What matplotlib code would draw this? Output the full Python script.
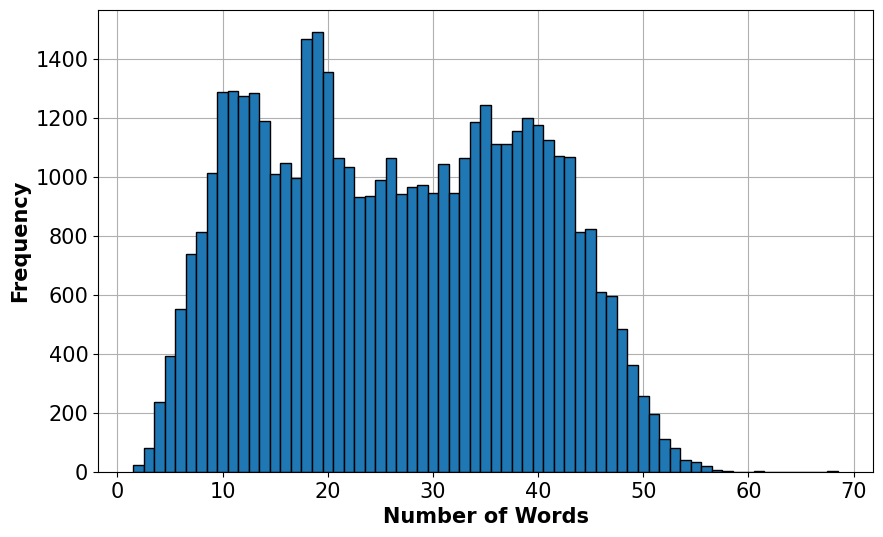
import numpy as np
import matplotlib
matplotlib.use("Agg")
import matplotlib.pyplot as plt

word_counts = list(range(2, 69))
frequencies = [25, 82, 237, 393, 553, 739, 815, 1014, 1289, 1293,
               1275, 1285, 1190, 1010, 1048, 997, 1468, 1492, 1356, 1066,
               1036, 933, 937, 991, 1065, 943, 967, 973, 947, 1045,
               947, 1065, 1187, 1244, 1113, 1113, 1156, 1200, 1177, 1126,
               1072, 1068, 815, 825, 609, 598, 485, 363, 257, 196,
               113, 82, 41, 33, 19, 8, 4, 0, 0, 3,
               0, 0, 0, 0, 0, 0, 3]
x_label = "Number of Words"
y_label = "Frequency"

fig = plt.figure(figsize=(8.83, 5.37), dpi=100)
ax = fig.add_axes([0.111, 0.121, 0.8777, 0.860])
bins = np.arange(min(word_counts) - 0.5, max(word_counts) + 1.5, 1)
ax.hist(word_counts, bins=bins, weights=frequencies, color="#1f77b4",
        edgecolor="black", linewidth=1.0)
ax.set_axisbelow(True)
ax.grid(True)
ax.set_xlabel(x_label, fontsize=15, fontweight="bold")
ax.set_ylabel(y_label, fontsize=15, fontweight="bold")
ax.tick_params(labelsize=15)
fig.savefig("out.png", dpi=100)
